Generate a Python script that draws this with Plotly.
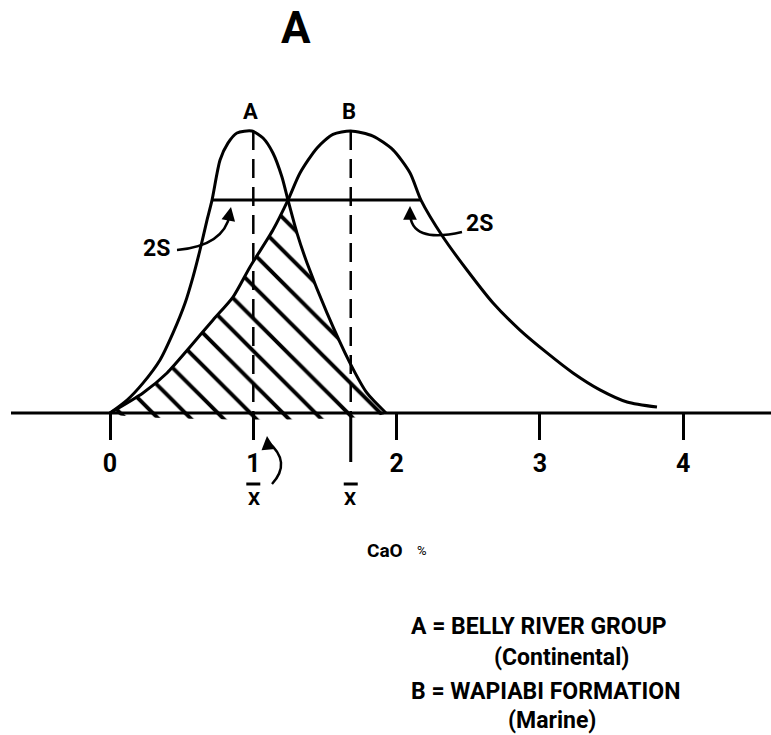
import plotly.graph_objects as go

# ---------------- data (CaO %, relative frequency) ----------------
A_X = [0.0, 0.119, 0.230, 0.349, 0.440, 0.524, 0.579, 0.628, 0.677, 0.712, 0.768,
       0.823, 0.886, 0.99, 1.068, 1.137, 1.20, 1.242, 1.305, 1.375, 1.514, 1.675, 1.793, 1.926]
A_Y = [0.0, 0.046, 0.106, 0.188, 0.284, 0.390, 0.482, 0.578, 0.684, 0.755, 0.897,
       0.957, 0.993, 1.0, 0.975, 0.922, 0.837, 0.755, 0.638, 0.532, 0.355, 0.177, 0.071, 0.0]

B_X = [0.0, 0.23, 0.398, 0.558, 0.719, 0.858, 0.977, 1.137, 1.242, 1.326, 1.445, 1.556,
       1.68, 1.835, 1.975, 2.094, 2.17, 2.324, 2.491, 2.673, 2.861, 3.050, 3.231,
       3.419, 3.608, 3.817]
B_Y = [0.0, 0.071, 0.142, 0.234, 0.330, 0.411, 0.518, 0.649, 0.755, 0.851, 0.940, 0.988,
       1.0, 0.982, 0.933, 0.851, 0.755, 0.624, 0.507, 0.390, 0.294, 0.213, 0.142,
       0.082, 0.039, 0.021]

A_MEAN = 1.0
B_MEAN = 1.68
PEAK = 1.0
TWO_S_Y = 0.755
TWO_S_X = [0.712, 2.17]
CROSS_X = 1.242          # where curve A (right side) meets curve B (left side)

TICK_VALS = [0, 1, 2, 3, 4]
TICK_TEXT = ["0", "1", "2", "3", "4"]

TITLE = "A"
X_LABEL = "CaO"
LEGEND_LINES = ["A = BELLY RIVER GROUP", "(Continental)", "B = WAPIABI FORMATION", "(Marine)"]

# ---------------- pixel helpers for decoration placement ----------------
W, H = 771, 735
PX0, PXU = 110.0, 143.3
PY0, PYU = 413.0, 282.0


def X(px):
    return (px - PX0) / PXU


def Y(py):
    return (PY0 - py) / PYU


FONT = "Roboto, Liberation Sans, sans-serif"
INK = "black"

fig = go.Figure()

# overlap (hatched) region: B left side up to crossing, then A right side down
ov_x = [x for x in B_X if x <= CROSS_X] + [x for x in A_X if x > CROSS_X]
ov_y = [y for x, y in zip(B_X, B_Y) if x <= CROSS_X] + [y for x, y in zip(A_X, A_Y) if x > CROSS_X]
ov_x = ov_x + [ov_x[0]]
ov_y = ov_y + [0.0]
fig.add_trace(go.Scatter(
    x=ov_x, y=ov_y, mode="lines", fill="toself",
    line=dict(width=0, color="rgba(0,0,0,0)", shape="spline", smoothing=0.6),
    fillcolor="white",
    fillpattern=dict(shape="\\", fgcolor=INK, fgopacity=1, bgcolor="white", size=23, solidity=0.17),
    hoverinfo="skip", showlegend=False))

# curves
for xs, ys in ((A_X, A_Y), (B_X, B_Y)):
    fig.add_trace(go.Scatter(x=xs, y=ys, mode="lines",
                             line=dict(color=INK, width=3, shape="spline", smoothing=0.7),
                             showlegend=False, hoverinfo="skip"))

# 2S line
fig.add_trace(go.Scatter(x=TWO_S_X, y=[TWO_S_Y, TWO_S_Y], mode="lines", line=dict(color=INK, width=3),
                         showlegend=False, hoverinfo="skip"))

shapes = []
# baseline
shapes.append(dict(type="line", xref="x", yref="y", x0=X(11), x1=X(W), y0=0, y1=0,
                   line=dict(color=INK, width=3)))
# dashed mean lines
for m in (A_MEAN, B_MEAN):
    shapes.append(dict(type="line", xref="x", yref="y", x0=m, x1=m, y0=PEAK, y1=0,
                       line=dict(color=INK, width=2.5, dash="19px,9px")))
# long tick at mean B
shapes.append(dict(type="line", xref="x", yref="y", x0=B_MEAN, x1=B_MEAN, y0=0, y1=Y(462),
                   line=dict(color=INK, width=3)))
# bars over X
for m in (A_MEAN, B_MEAN):
    shapes.append(dict(type="line", xref="x", yref="y", x0=m - X(117) + X(110), x1=m + X(117) - X(110),
                       y0=Y(484), y1=Y(484), line=dict(color=INK, width=3)))


def qpath(p0, c, p1):
    return "M {} {} Q {} {} {} {}".format(X(p0[0]), Y(p0[1]), X(c[0]), Y(c[1]), X(p1[0]), Y(p1[1]))


# curved arrows
for p0, c, p1 in [((177, 250), (224, 246), (230, 214)),
                  ((462, 232), (410, 244), (410, 212)),
                  ((272, 484), (292, 462), (268, 442))]:
    shapes.append(dict(type="path", xref="x", yref="y", path=qpath(p0, c, p1),
                       line=dict(color=INK, width=2.5)))

annotations = []


def txt(s, px, py, size, bold=True, **kw):
    annotations.append(dict(text=s, x=X(px), y=Y(py), xref="x", yref="y", showarrow=False,
                            font=dict(family=FONT, size=size, color=INK, weight="bold" if bold else "normal"),
                            xanchor="center", yanchor="middle", **kw))


def head(px, py, dx, dy):
    annotations.append(dict(text="", x=X(px), y=Y(py), xref="x", yref="y", showarrow=True,
                            ax=dx, ay=dy, arrowhead=2, arrowsize=1.1, arrowwidth=2.5, arrowcolor=INK))


head(231, 207, -2, 10)
head(410, 206, 0, 10)
head(267, 436, 1, 10)

txt(TITLE, 296, 28, 44)
txt("A", 250, 111, 22)
txt("B", 349, 111, 22)
txt("2S", 156, 248, 23)
txt("2S", 479, 223, 23)
txt("X", 254, 498, 19)
txt("X", 350, 498, 19)
txt(X_LABEL, 385, 550, 19)
txt("%", 422, 550, 13, bold=False)
txt(LEGEND_LINES[0], 539, 626, 23)
txt(LEGEND_LINES[1], 561, 657, 23)
txt(LEGEND_LINES[2], 545, 691, 23)
txt(LEGEND_LINES[3], 552, 720, 23)

fig.update_layout(
    width=W, height=H, autosize=False,
    margin=dict(l=0, r=0, t=0, b=0, pad=0),
    paper_bgcolor="white", plot_bgcolor="white",
    showlegend=False,
    shapes=shapes, annotations=annotations,
    xaxis=dict(range=[X(0), X(W)], showgrid=False, zeroline=False, showline=False,
               anchor="free", position=1 - PY0 / H, side="bottom",
               tickmode="array", tickvals=TICK_VALS, ticktext=TICK_TEXT,
               ticks="outside", ticklen=26, tickwidth=3, tickcolor=INK,
               ticklabelstandoff=2,
               tickfont=dict(family=FONT, size=25, color=INK, weight="bold"),
               fixedrange=True),
    yaxis=dict(range=[Y(H), Y(0)], visible=False, showgrid=False, zeroline=False, fixedrange=True),
)

fig.write_html("out.html")
